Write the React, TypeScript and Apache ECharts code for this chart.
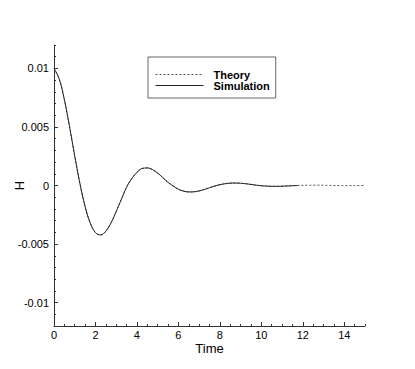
import React, { useEffect, useRef } from "react";
import * as echarts from "echarts";

// Time samples of the simulation (solid line)
const simTime = [
  0, 0.25, 0.5, 0.75, 1, 1.25, 1.5, 1.75, 2, 2.25,
  2.5, 2.75, 3, 3.25, 3.5, 3.75, 4, 4.25, 4.5, 4.75,
  5, 5.25, 5.5, 5.75, 6, 6.25, 6.5, 6.75, 7, 7.25,
  7.5, 7.75, 8, 8.25, 8.5, 8.75, 9, 9.25, 9.5, 9.75,
  10, 10.25, 10.5, 10.75, 11, 11.25, 11.5, 11.75,
];
const simulationH = [
  0.01, 0.00911, 0.00733, 0.00502, 0.00253, 0.00017, -0.00179, -0.00321, -0.00402, -0.00422,
  -0.0039, -0.00319, -0.00222, -0.00118, -0.00015, 0.00058, 0.00112, 0.00145, 0.0015, 0.00136,
  0.00106, 0.00067, 0.00027, -0.00005, -0.00032, -0.00048, -0.00055, -0.00054, -0.00046, -0.00034,
  -0.00019, -0.00005, 0.00007, 0.00015, 0.0002, 0.00021, 0.00019, 0.00015, 0.00009, 0.00003,
  -0.00002, -0.00005, -0.00007, -0.00007, -0.00006, -0.00004, -0.00002, 0.0,
];
// Theory continues past the simulation (dotted line)
const theoryTailTime = [12, 12.25, 12.5, 12.75, 13, 13.25, 13.5, 13.75, 14, 14.25, 14.5, 14.75, 15];
const theoryTailH = [0.00001, 0.00002, 0.00003, 0.00003, 0.00002, 0.00001, 0.0, -0.00001, -0.00001, -0.00001, -0.00001, 0.0, 0.0];

const yTickValues = [-0.01, -0.005, 0, 0.005, 0.01];
const yTickLabels = ["-0.01", "-0.005", "0", "0.005", "0.01"];
const xTickLabels = ["0", "2", "4", "6", "8", "10", "12", "14"];

const FONT = "'Liberation Sans', Arial, sans-serif";

export default function App() {
  const ref = useRef<HTMLDivElement>(null);
  useEffect(() => {
    if (!ref.current) return;
    const chart = echarts.init(ref.current, undefined, { renderer: "svg" });
    const theoryTime = [...simTime, ...theoryTailTime];
    const theoryH = [...simulationH, ...theoryTailH];
    const theoryData = theoryTime.map((t, i) => [t, theoryH[i]]);
    const simData = simTime.map((t, i) => [t, simulationH[i]]);

    const plotTop = 45;
    const plotH = 281;
    const plotLeft = 54;
    const plotW = 311;
    const axisColor = "#333";

    chart.setOption({
      animation: false,
      backgroundColor: "#fff",
      textStyle: { fontFamily: FONT },
      grid: [
        { left: plotLeft, top: plotTop, width: plotW, height: plotH },
        // grid for major y ticks (-0.01..0.01)
        { left: plotLeft, top: plotTop + (plotH * 2) / 24, width: plotW, height: (plotH * 20) / 24 },
        // grid for major x ticks (0..14)
        { left: plotLeft, top: plotTop, width: (plotW * 14) / 15, height: plotH },
      ],
      xAxis: [
        {
          gridIndex: 0, type: "value", min: 0, max: 15, interval: 0.5,
          axisLine: { show: true, onZero: false, lineStyle: { color: axisColor, width: 1 } },
          axisTick: { show: true, inside: true, length: 2, lineStyle: { color: axisColor } },
          axisLabel: { show: false },
          splitLine: { show: false },
          name: "Time", nameLocation: "middle", nameGap: 16,
          nameTextStyle: { fontSize: 13, color: "#000", fontFamily: FONT },
        },
        { gridIndex: 1, type: "value", min: 0, max: 15, show: false },
        {
          gridIndex: 2, type: "value", min: 0, max: 14, interval: 2,
          axisLine: { show: false, onZero: false },
          axisTick: { show: true, inside: true, length: 4, lineStyle: { color: axisColor } },
          axisLabel: {
            show: true, margin: 3, fontSize: 11, color: "#000", fontFamily: FONT,
            formatter: (v: number) => xTickLabels[Math.round(v / 2)] ?? "",
          },
          splitLine: { show: false },
        },
      ],
      yAxis: [
        {
          gridIndex: 0, type: "value", min: -0.012, max: 0.012, interval: 0.001,
          axisLine: { show: true, onZero: false, lineStyle: { color: axisColor, width: 1 } },
          axisTick: { show: true, inside: true, length: 2, lineStyle: { color: axisColor } },
          axisLabel: { show: false },
          splitLine: { show: false },
          name: "H", nameLocation: "middle", nameGap: 28,
          nameTextStyle: { fontSize: 13, color: "#000", fontFamily: FONT },
        },
        {
          gridIndex: 1, type: "value", min: -0.01, max: 0.01, interval: 0.005,
          axisLine: { show: false, onZero: false },
          axisTick: { show: true, inside: true, length: 4, lineStyle: { color: axisColor } },
          axisLabel: {
            show: true, margin: 5, fontSize: 11, color: "#000", fontFamily: FONT,
            formatter: (v: number) => {
              let best = 0;
              yTickValues.forEach((tv, i) => {
                if (Math.abs(tv - v) < Math.abs(yTickValues[best] - v)) best = i;
              });
              return yTickLabels[best];
            },
          },
          splitLine: { show: false },
        },
        { gridIndex: 2, type: "value", min: -0.012, max: 0.012, show: false },
      ],
      legend: {
        data: ["Theory", "Simulation"],
        orient: "vertical",
        left: 148,
        top: 57,
        padding: [12, 6, 7, 7],
        borderColor: "#666",
        borderWidth: 1,
        itemWidth: 48,
        itemHeight: 10,
        itemGap: 0,
        itemStyle: { opacity: 0 },
        lineStyle: { width: 1 },
        textStyle: {
          fontFamily: FONT, fontSize: 11, fontWeight: "bold", color: "#000",
          padding: [0, 0, 0, 5], lineHeight: 10,
        },
      },
      series: [
        {
          name: "Theory", type: "line", xAxisIndex: 0, yAxisIndex: 0,
          data: theoryData, symbol: "none", smooth: 0.4,
          lineStyle: { color: "#555", width: 1, type: [2, 2] },
          itemStyle: { color: "#555" },
        },
        {
          name: "Simulation", type: "line", xAxisIndex: 0, yAxisIndex: 0,
          data: simData, symbol: "none", smooth: 0.4,
          lineStyle: { color: "#222", width: 1, type: "solid" },
          itemStyle: { color: "#222" },
        },
      ],
    });
    return () => chart.dispose();
  }, []);
  return (
    <div
      ref={ref}
      style={{ position: "fixed", left: 0, top: 0, width: 415, height: 369, background: "#fff" }}
    />
  );
}
